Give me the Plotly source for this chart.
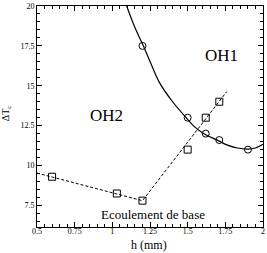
import plotly.graph_objects as go

# OH1 measured points (circles)
oh1_x = [1.2, 1.5, 1.62, 1.71, 1.9]
oh1_y = [17.5, 13.0, 12.0, 11.6, 11.0]

# OH1 fitted curve
curve_x = [1.095, 1.15, 1.207, 1.26, 1.313, 1.40, 1.49, 1.544, 1.617, 1.70, 1.76, 1.83, 1.90, 1.95, 2.0]
curve_y = [20.0, 18.65, 17.48, 16.3, 15.2, 14.0, 13.0, 12.44, 11.95, 11.58, 11.3, 11.1, 11.03, 11.1, 11.33]

# OH2 measured points (squares)
oh2_x = [0.6, 1.03, 1.2, 1.5, 1.62, 1.71]
oh2_y = [9.3, 8.25, 7.8, 11.0, 13.0, 14.0]

# OH2 dashed fit line
fit_x = [0.5, 1.2, 1.76]
fit_y = [9.53, 7.8, 14.64]

x_ticks = [0.5, 0.75, 1, 1.25, 1.5, 1.75, 2]
x_labels = ["0.5", "0.75", "1", "1.25", "1.5", "1.75", "2"]
y_ticks = [7.5, 10, 12.5, 15, 17.5, 20]
y_labels = ["7.5", "10", "12.5", "15", "17.5", "20"]

fig = go.Figure()
fig.add_trace(go.Scatter(x=curve_x, y=curve_y, mode="lines",
                         line=dict(color="black", width=1.2, shape="spline"),
                         showlegend=False, hoverinfo="skip"))
fig.add_trace(go.Scatter(x=fit_x, y=fit_y, mode="lines",
                         line=dict(color="black", width=1, dash="3px,2px"),
                         showlegend=False, hoverinfo="skip"))
fig.add_trace(go.Scatter(x=oh1_x, y=oh1_y, mode="markers",
                         marker=dict(symbol="circle-open", size=7, color="black", line=dict(width=1)),
                         showlegend=False))
fig.add_trace(go.Scatter(x=oh2_x, y=oh2_y, mode="markers",
                         marker=dict(symbol="square-open", size=7, color="black", line=dict(width=1)),
                         showlegend=False))

tickfont = dict(family="Liberation Serif", size=8, color="black")
fig.update_xaxes(range=[0.5, 2], tickvals=x_ticks, ticktext=x_labels,
                 ticks="inside", ticklen=5, tickcolor="black", mirror="allticks",
                 showline=True, linecolor="black", linewidth=1, showgrid=False, zeroline=False,
                 tickfont=tickfont, ticklabelstandoff=-4, ticklabeloverflow="allow",
                 minor=dict(dtick=0.05, ticks="inside", ticklen=3, tickcolor="black", showgrid=False))
fig.update_yaxes(range=[6.15, 20], tickvals=y_ticks, ticktext=y_labels,
                 ticks="inside", ticklen=5, tickcolor="black", mirror="allticks",
                 showline=True, linecolor="black", linewidth=1, showgrid=False, zeroline=False,
                 tickfont=tickfont, ticklabeloverflow="allow",
                 minor=dict(dtick=0.5, ticks="inside", ticklen=3, tickcolor="black", showgrid=False))

serif = "Liberation Serif"
fig.add_annotation(x=1.723, y=16.87, text="OH1", showarrow=False,
                   font=dict(family=serif, size=17, color="black"))
fig.add_annotation(x=0.963, y=13.12, text="OH2", showarrow=False,
                   font=dict(family=serif, size=17, color="black"))
fig.add_annotation(x=1.27, y=6.91, text="Ecoulement de base", showarrow=False,
                   font=dict(family=serif, size=13, color="black"))
fig.add_annotation(xref="paper", yref="paper", x=(149 - 37) / 227, y=(227 - 245) / 225,
                   xanchor="center", yanchor="middle",
                   text="h (mm)", showarrow=False,
                   font=dict(family=serif, size=12, color="black"))
fig.add_annotation(xref="paper", yref="paper", x=(6 - 37) / 227, y=(227 - 111) / 225,
                   xanchor="center", yanchor="middle",
                   text="ΔT<sub>c</sub>", showarrow=False, textangle=-90,
                   font=dict(family=serif, size=10, color="black"))

fig.update_layout(width=267, height=253, margin=dict(l=37, r=3, t=2, b=26),
                  paper_bgcolor="white", plot_bgcolor="white")
fig.write_html("out.html")
